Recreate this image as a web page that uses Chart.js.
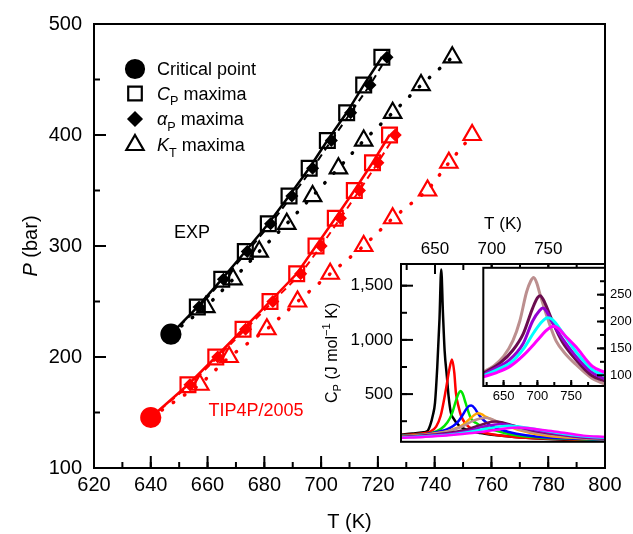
<!DOCTYPE html>
<html>
<head>
<meta charset="utf-8">
<script src="https://cdn.jsdelivr.net/npm/chart.js@4.4.1/dist/chart.umd.min.js"></script>
<style>
  html, body { margin: 0; padding: 0; background: #fff; }
  #wrap { position: relative; width: 633px; height: 534px; }
  canvas { position: absolute; }
  #main { left: 0; top: 0; }
  #inset { left: 318px; top: 205px; }
  #zoom { left: 470px; top: 255px; }
</style>
</head>
<body>
<div id="wrap">
  <canvas id="main" width="633" height="534"></canvas>
  <canvas id="inset" width="315" height="255"></canvas>
  <canvas id="zoom" width="163" height="150"></canvas>
</div>
<script>
const FONT = "'Liberation Sans', Arial, Helvetica, sans-serif";
Chart.defaults.font.family = FONT;
Chart.defaults.color = '#000';

// ---- main panel: loci of response maxima ----
const mainTTicks = [620, 640, 660, 680, 700, 720, 740, 760, 780, 800];
const mainPTicks = [100, 200, 300, 400, 500];

const expCritT = 647.1, expCritP = 220.6;
const expP = [245, 270, 295, 320, 345, 370, 395, 420, 445, 470];
const expCpT = [656.4, 665.0, 673.3, 681.4, 688.7, 695.8, 702.2, 709.0, 715.0, 721.4];
const expAlphaT = [657.0, 665.6, 674.0, 682.2, 689.7, 697.0, 703.6, 710.4, 717.2, 723.2];
const expKtT = [659.4, 669.0, 678.2, 687.9, 697.0, 706.1, 715.0, 725.2, 735.2, 746.2];

const tipCritT = 640.0, tipCritP = 145.5;
const tipP = [175, 200, 225, 250, 275, 300, 325, 350, 375, 400];
const tipCpT = [653.1, 662.9, 672.5, 682.0, 691.4, 698.2, 705.0, 711.7, 718.1, 724.1];
const tipAlphaT = [653.8, 663.6, 673.4, 683.0, 692.8, 700.0, 706.8, 713.5, 720.0, 726.1];
const tipKtT = [657.3, 667.6, 680.9, 691.7, 703.2, 715.0, 725.2, 737.5, 745.0, 753.2];

// ---- inset: Cp isobars ----
const insetTTicks = [650, 700, 750];
const insetCpTicks = [500, 1000, 1500];
const zoomTTicks = [650, 700, 750];
const zoomCpTicks = [100, 150, 200, 250];

const cpBlackT = [620, 630, 640, 643.5, 646, 648, 650, 652, 654, 655.5, 657, 658.5, 660.5, 662, 664, 666, 671, 679, 690, 700, 720, 750, 800];
const cpBlack  = [128, 136, 148, 160, 220, 300, 420, 750, 1200, 1650, 1250, 900, 660, 480, 330, 280, 212, 168, 140, 125, 105, 86, 66];
const cpRedT = [620, 630, 640, 646, 651, 655, 659.5, 662.5, 665, 667, 668.5, 671, 673, 676, 680, 685, 690, 700, 720, 750, 800];
const cpRed  = [122, 128, 140, 155, 200, 300, 535, 720, 820, 700, 506, 375, 300, 240, 197, 170, 153, 130, 105, 88, 72];
const cpGreenT = [620, 635, 646, 655, 661, 665, 668.5, 671, 672.5, 674.5, 677, 680, 682, 686, 690, 702, 720, 750, 800];
const cpGreen  = [118, 125, 138, 177, 241, 320, 440, 510, 528, 500, 418, 320, 270, 235, 210, 168, 122, 95, 76];
const cpBlueT = [620, 640, 655, 661, 666, 670, 674, 677.5, 680, 682, 685, 688, 690.5, 695, 699, 705, 715, 730, 750, 800];
const cpBlue  = [115, 128, 158, 177, 205, 241, 300, 360, 390, 394, 370, 320, 285, 240, 212, 185, 150, 120, 100, 80];
const cpOrangeT = [620, 640, 655, 664, 670, 676, 681, 685, 688, 691, 695, 702, 712.5, 725, 740, 760, 800];
const cpOrange  = [112, 125, 145, 168, 190, 226, 275, 310, 323, 315, 290, 256, 212, 165, 130, 105, 85];
const cpBrownT = [620, 635, 650, 664, 674, 684, 690, 694.5, 699, 704, 713, 720, 728, 740, 757, 780, 800];
const cpBrown  = [106, 117, 135, 165, 201, 255, 275, 282, 272, 250, 214, 188, 163, 142, 120, 95, 83];
const cpPlumT = [620, 645, 664, 679, 693, 700, 704, 709, 716, 723, 737, 757, 781, 800];
const cpPlum  = [104, 123, 147, 177, 225, 244, 248, 240, 220, 198, 162, 129, 99, 89];
const cpVioletT = [620, 635, 659, 679, 693, 703, 708, 713, 722, 737, 757, 781, 800];
const cpViolet  = [101, 111, 129, 159, 201, 220, 225, 220, 198, 168, 135, 105, 93];
const cpCyanT = [620, 640, 660, 680, 695, 707, 715, 722, 737, 757, 781, 800];
const cpCyan  = [99, 110, 123, 150, 180, 200, 207, 204, 180, 144, 111, 99];
const cpMagentaT = [620, 640, 660, 680, 700, 712, 719, 724, 731, 740, 757, 781, 800];
const cpMagenta  = [97, 105, 117, 138, 165, 182, 189, 191, 187, 175, 153, 117, 105];

const xy = (ts, ys) => ts.map((t, i) => ({ x: t, y: ys[i] }));
const range = (a, b, s) => { const r = []; for (let v = a; v <= b + 1e-9; v += s) r.push(v); return r; };

function rich(ctx, parts, x, y, size, align, color) {
    const fontOf = st => ((st === 'i') ? 'italic ' : '') + ((st === 'sub' || st === 'sup') ? size * 0.7 : size) + 'px ' + FONT;
    let w = 0;
    parts.forEach(([t, st]) => { ctx.font = fontOf(st); w += ctx.measureText(t).width; });
    let cx = align === 'center' ? x - w / 2 : x;
    const base = y + size * 0.36;
    ctx.fillStyle = color;
    ctx.textBaseline = 'alphabetic';
    ctx.textAlign = 'left';
    parts.forEach(([t, st]) => {
        ctx.font = fontOf(st);
        let by = base;
        if (st === 'sub') by += size * 0.28;
        if (st === 'sup') by -= size * 0.42;
        ctx.fillText(t, cx, by);
        cx += ctx.measureText(t).width;
    });
}

function framePlugin(cfg) {
    return {
        id: 'frame',
        beforeDraw(chart) {
            const a = chart.chartArea, ctx = chart.ctx;
            ctx.save();
            ctx.fillStyle = '#fff';
            ctx.fillRect(a.left, a.top, a.right - a.left, a.bottom - a.top);
            ctx.restore();
        },
        afterDraw(chart) {
            const a = chart.chartArea, ctx = chart.ctx;
            ctx.save();
            ctx.strokeStyle = '#000';
            ctx.lineWidth = cfg.lw;
            cfg.ticks.forEach(t => {
                const s = chart.scales[t.axis];
                t.values.forEach(v => {
                    const p = s.getPixelForValue(v);
                    ctx.beginPath();
                    if (t.side === 'bottom') { ctx.moveTo(p, a.bottom); ctx.lineTo(p, a.bottom - t.len); }
                    if (t.side === 'top') { ctx.moveTo(p, a.top); ctx.lineTo(p, a.top + t.len); }
                    if (t.side === 'left') { ctx.moveTo(a.left, p); ctx.lineTo(a.left + t.len, p); }
                    if (t.side === 'right') { ctx.moveTo(a.right, p); ctx.lineTo(a.right - t.len, p); }
                    ctx.stroke();
                });
            });
            ctx.strokeRect(a.left, a.top, a.right - a.left, a.bottom - a.top);
            if (cfg.extra) cfg.extra(chart, ctx);
            ctx.restore();
        }
    };
}

function axis(opts) {
    return {
        type: 'linear',
        position: opts.position,
        min: opts.min,
        max: opts.max,
        grid: { display: false, drawTicks: false },
        border: { display: false },
        afterBuildTicks: s => { s.ticks = opts.ticks.map(v => ({ value: v })); },
        afterFit: s => { if (opts.height) s.height = opts.height; if (opts.width) s.width = opts.width; },
        ticks: {
            padding: opts.padding,
            autoSkip: false,
            maxRotation: 0,
            font: { size: opts.size },
            color: '#000',
            callback: v => v.toLocaleString('en-US')
        }
    };
}

function lineSet(color, data, dash, width, cap) {
    return {
        data, showLine: true, borderColor: color, borderWidth: width,
        borderDash: dash, borderCapStyle: cap || 'butt', pointRadius: 0, order: 1
    };
}

function markerSet(color, data, style, radius, filled) {
    return {
        data, showLine: false, pointStyle: style, pointRadius: radius,
        pointBorderColor: color, pointBackgroundColor: filled ? color : 'rgba(0,0,0,0)',
        pointBorderWidth: 2.2, order: 0
    };
}

function group(color, critT, critP, ps, cpT, alphaT, ktT) {
    return [
        lineSet(color, xy([critT, ...cpT], [critP, ...ps]), [], 2.5),
        lineSet(color, xy([critT, ...alphaT], [critP, ...ps]), [7, 5], 2),
        lineSet(color, xy([critT, ...ktT], [critP, ...ps]), [0.5, 13], 3.5, 'round'),
        markerSet(color, xy(cpT, ps), 'rect', 10.5, false),
        markerSet(color, xy(alphaT, ps), 'rectRot', 5, true),
        markerSet(color, xy(ktT, ps), 'triangle', 10, false),
        markerSet(color, [{ x: critT, y: critP }], 'circle', 9.5, true)
    ];
}

function drawLegend(chart, ctx) {
    const items = [
        ['circle', 9, true, [['Critical point', '']]],
        ['rect', 9.6, false, [['C', 'i'], ['P', 'sub'], [' maxima', '']]],
        ['rectRot', 6.5, true, [['\u03b1', 'i'], ['P', 'sub'], [' maxima', '']]],
        ['triangle', 10, false, [['K', 'i'], ['T', 'sub'], [' maxima', '']]]
    ];
    const rows = [69, 93.5, 119, 145];
    items.forEach(([style, r, filled, parts], i) => {
        ctx.save();
        ctx.strokeStyle = '#000';
        ctx.fillStyle = filled ? '#000' : 'rgba(0,0,0,0)';
        ctx.lineWidth = 2.2;
        Chart.helpers.drawPoint(ctx, { pointStyle: style, radius: r, borderWidth: 2.2, rotation: 0 }, 135, rows[i]);
        ctx.restore();
        rich(ctx, parts, 157, rows[i], 18, 'left', '#000');
    });
    rich(ctx, [['EXP', '']], 192, 232, 18, 'center', '#000');
    rich(ctx, [['TIP4P/2005', '']], 256, 410, 18, 'center', '#ff0000');

    const a = chart.chartArea;
    rich(ctx, [['T (K)', '']], (a.left + a.right) / 2, 521, 20, 'center', '#000');
    ctx.save();
    ctx.translate(30, (a.top + a.bottom) / 2);
    ctx.rotate(-Math.PI / 2);
    rich(ctx, [['P', 'i'], [' (bar)', '']], 0, 0, 20, 'center', '#000');
    ctx.restore();
}

new Chart(document.getElementById('main'), {
    type: 'scatter',
    data: {
        datasets: [
            ...group('#000000', expCritT, expCritP, expP, expCpT, expAlphaT, expKtT),
            ...group('#ff0000', tipCritT, tipCritP, tipP, tipCpT, tipAlphaT, tipKtT)
        ]
    },
    options: {
        responsive: false, animation: false, devicePixelRatio: 1, events: [],
        layout: { padding: { top: 23, right: 28, left: 0, bottom: 0 } },
        plugins: { legend: { display: false }, tooltip: { enabled: false } },
        scales: {
            x: axis({ position: 'bottom', min: 620, max: 800, ticks: mainTTicks, height: 66, padding: 5, size: 20 }),
            y: axis({ position: 'left', min: 100, max: 500, ticks: mainPTicks, width: 94, padding: 12, size: 20 })
        }
    },
    plugins: [framePlugin({
        lw: 2,
        ticks: [
            { axis: 'x', side: 'bottom', len: 6, values: range(620, 800, 10) },
            { axis: 'x', side: 'bottom', len: 12, values: mainTTicks },
            { axis: 'y', side: 'left', len: 6, values: range(100, 500, 50) },
            { axis: 'y', side: 'left', len: 12, values: mainPTicks }
        ],
        extra: drawLegend
    })]
});

const curves = [
    ['#000000', cpBlackT, cpBlack],
    ['#ff0000', cpRedT, cpRed],
    ['#00e600', cpGreenT, cpGreen],
    ['#0000ff', cpBlueT, cpBlue],
    ['#ffa500', cpOrangeT, cpOrange],
    ['#bc8f8f', cpBrownT, cpBrown],
    ['#6a0d4f', cpPlumT, cpPlum],
    ['#9400d3', cpVioletT, cpViolet],
    ['#00ffff', cpCyanT, cpCyan],
    ['#ff00ff', cpMagentaT, cpMagenta]
];

function curveSets(list, width) {
    return list.map(([color, ts, cs], i) => ({
        data: xy(ts, cs), showLine: true, borderColor: color, borderWidth: width,
        pointRadius: 0, cubicInterpolationMode: 'monotone', order: list.length - i
    }));
}

new Chart(document.getElementById('inset'), {
    type: 'scatter',
    data: { datasets: curveSets(curves, 2.5) },
    options: {
        responsive: false, animation: false, devicePixelRatio: 1, events: [],
        layout: { padding: { top: 0, right: 28, left: 0, bottom: 9.5 } },
        plugins: { legend: { display: false }, tooltip: { enabled: false } },
        scales: {
            x: axis({ position: 'top', min: 620, max: 800, ticks: insetTTicks, height: 59, padding: 4, size: 17 }),
            y: axis({ position: 'left', min: 60, max: 1700, ticks: insetCpTicks, width: 83, padding: 8, size: 17 })
        }
    },
    plugins: [framePlugin({
        lw: 2,
        ticks: [
            { axis: 'x', side: 'top', len: 6, values: range(625, 775, 25) },
            { axis: 'x', side: 'top', len: 10, values: insetTTicks },
            { axis: 'y', side: 'left', len: 6, values: range(250, 1500, 250) },
            { axis: 'y', side: 'left', len: 12, values: insetCpTicks }
        ],
        extra: (chart, ctx) => {
            const a = chart.chartArea;
            rich(ctx, [['T (K)', '']], (a.left + a.right) / 2, 18, 17, 'center', '#000');
            ctx.save();
            ctx.translate(13, (a.top + a.bottom) / 2);
            ctx.rotate(-Math.PI / 2);
            rich(ctx, [['C', ''], ['P', 'sub'], [' (J mol', ''], ['\u22121', 'sup'], [' K)', '']], 0, 0, 16, 'center', '#000');
            ctx.restore();
        }
    })]
});

new Chart(document.getElementById('zoom'), {
    type: 'scatter',
    data: { datasets: curveSets(curves.slice(5), 3) },
    options: {
        responsive: false, animation: false, devicePixelRatio: 1, events: [],
        layout: { padding: { top: 9, right: 0, left: 13.3, bottom: 0 } },
        plugins: { legend: { display: false }, tooltip: { enabled: false } },
        scales: {
            x: axis({ position: 'bottom', min: 620, max: 800, ticks: zoomTTicks, height: 19, padding: 3, size: 13 }),
            y: axis({ position: 'right', min: 80, max: 300, ticks: zoomCpTicks, width: 28, padding: 5, size: 13 })
        }
    },
    plugins: [framePlugin({
        lw: 2,
        ticks: [
            { axis: 'x', side: 'bottom', len: 4, values: range(625, 775, 25) },
            { axis: 'x', side: 'bottom', len: 6, values: zoomTTicks },
            { axis: 'y', side: 'right', len: 5, values: range(125, 275, 25) },
            { axis: 'y', side: 'right', len: 8, values: zoomCpTicks }
        ]
    })]
});
</script>
</body>
</html>
